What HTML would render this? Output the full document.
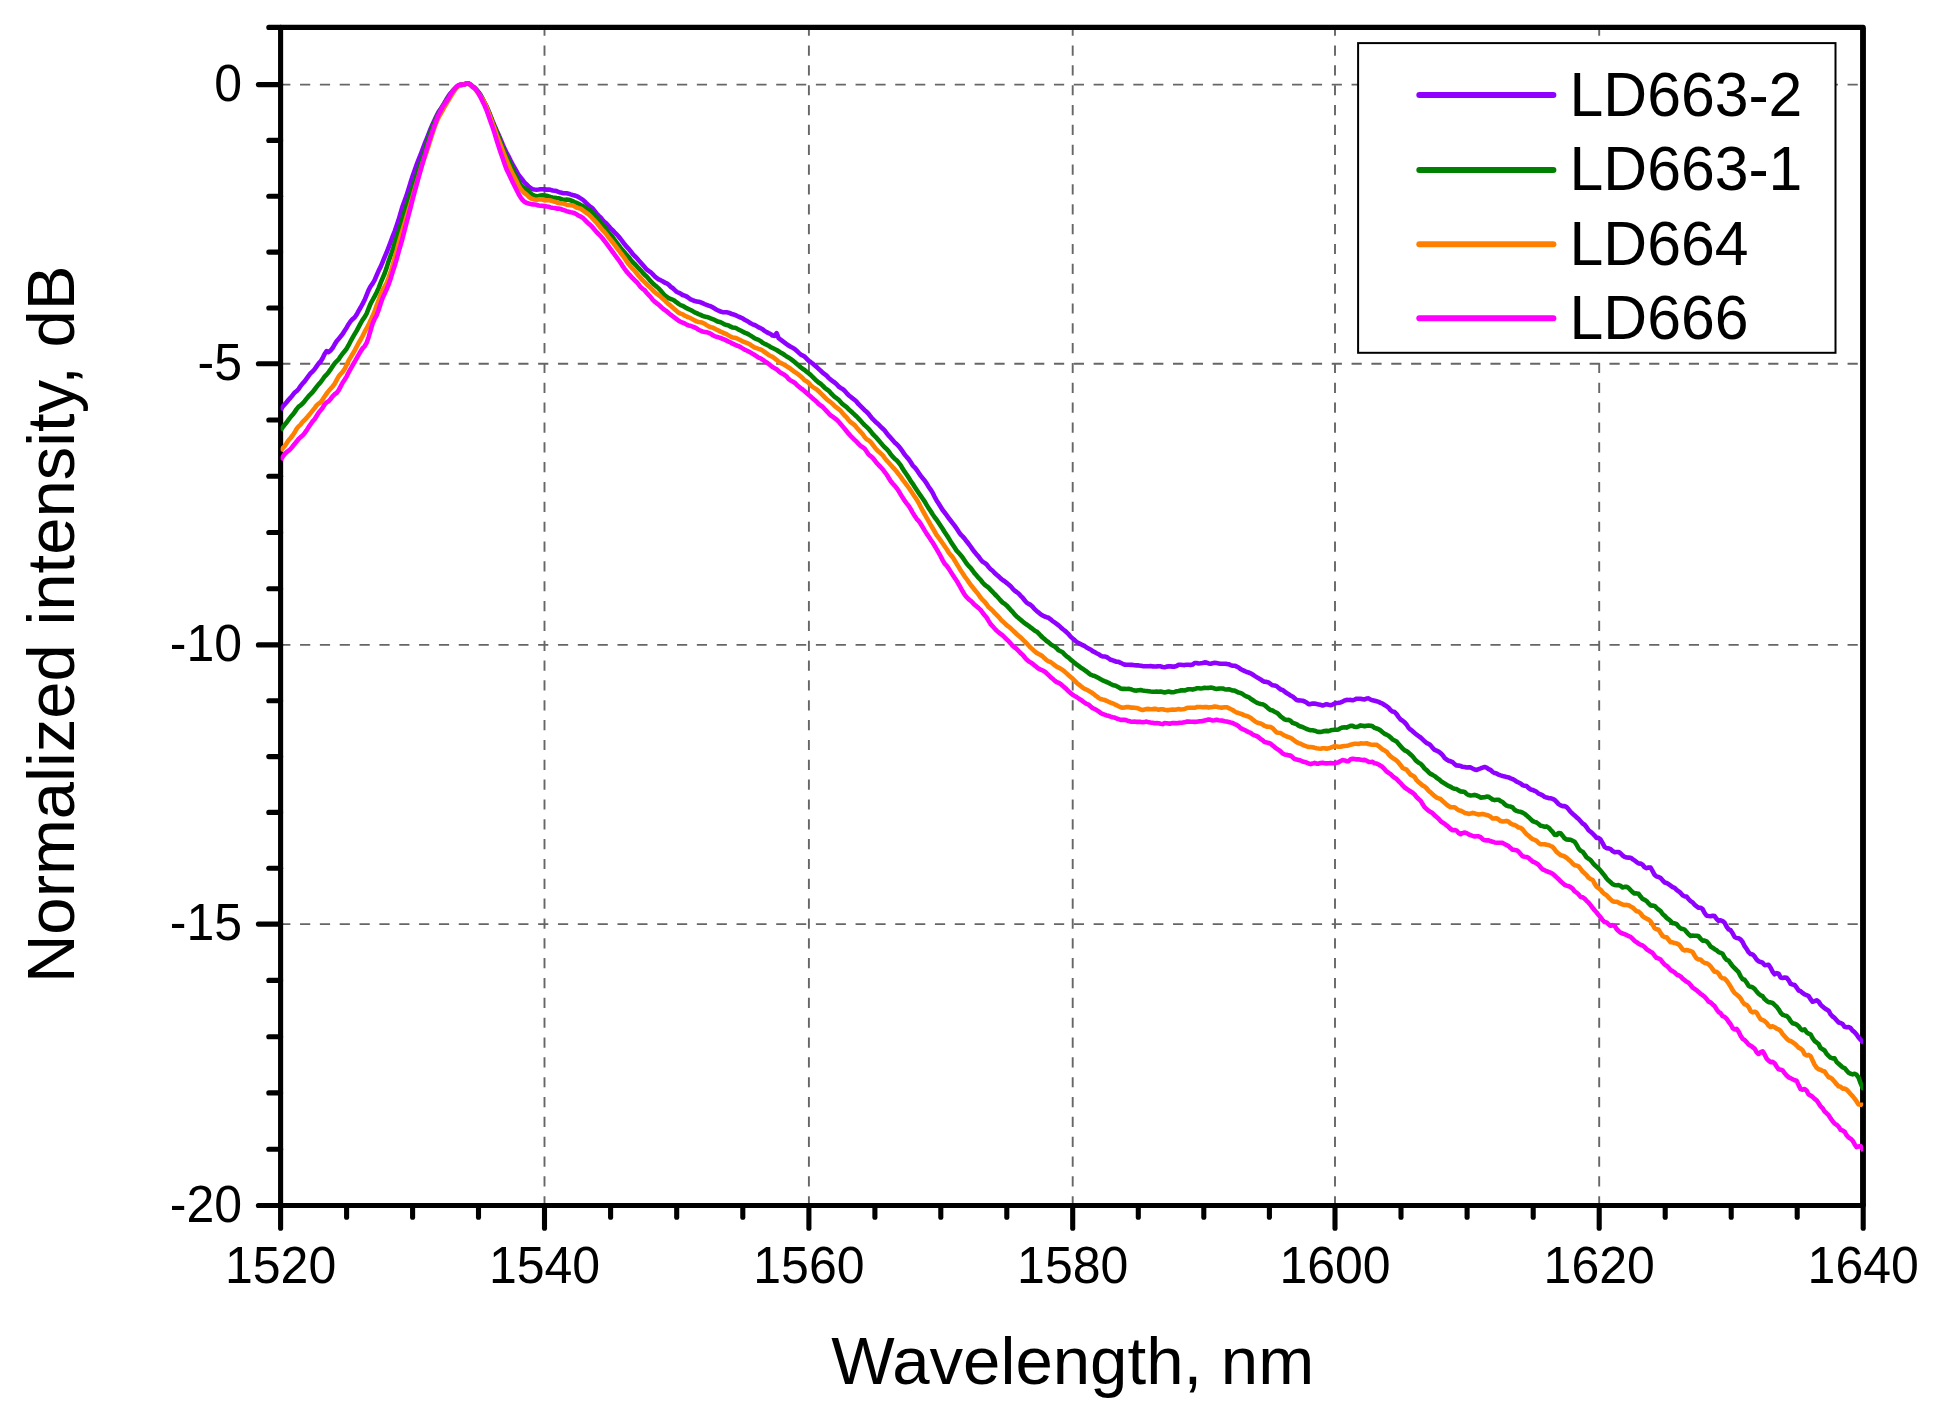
<!DOCTYPE html>
<html lang="en"><head><meta charset="utf-8"><title>Normalized intensity vs wavelength</title>
<style>html,body{margin:0;padding:0;background:#fff;}body{width:1939px;height:1415px;overflow:hidden;}svg{display:block;}text{font-family:'Liberation Sans', Arial, Helvetica, sans-serif;fill:#000;}</style></head><body>
<svg width="1939" height="1415" viewBox="0 0 1939 1415">
<rect x="0" y="0" width="1939" height="1415" fill="#fff"/>
<g stroke="#666666" stroke-width="1.9" fill="none" stroke-dasharray="10.2 9.64">
<line x1="280.2" y1="84.6" x2="1863.2" y2="84.6"/>
<line x1="280.2" y1="363.8" x2="1863.2" y2="363.8"/>
<line x1="280.2" y1="644.9" x2="1863.2" y2="644.9"/>
<line x1="280.2" y1="924.1" x2="1863.2" y2="924.1"/>
<line x1="544.5" y1="1206.4" x2="544.5" y2="27.4"/>
<line x1="808.9" y1="1206.4" x2="808.9" y2="27.4"/>
<line x1="1072.7" y1="1206.4" x2="1072.7" y2="27.4"/>
<line x1="1335" y1="1206.4" x2="1335" y2="27.4"/>
<line x1="1599.2" y1="1206.4" x2="1599.2" y2="27.4"/>
</g>
<g stroke="#000" stroke-width="5.1" fill="none" stroke-linecap="round">
<line x1="280.6" y1="27.4" x2="268.8" y2="27.4"/>
<line x1="280.6" y1="84.6" x2="258.4" y2="84.6"/>
<line x1="280.6" y1="140.4" x2="268.8" y2="140.4"/>
<line x1="280.6" y1="196.3" x2="268.8" y2="196.3"/>
<line x1="280.6" y1="252.1" x2="268.8" y2="252.1"/>
<line x1="280.6" y1="308" x2="268.8" y2="308"/>
<line x1="280.6" y1="363.8" x2="258.4" y2="363.8"/>
<line x1="280.6" y1="420" x2="268.8" y2="420"/>
<line x1="280.6" y1="476.2" x2="268.8" y2="476.2"/>
<line x1="280.6" y1="532.5" x2="268.8" y2="532.5"/>
<line x1="280.6" y1="588.7" x2="268.8" y2="588.7"/>
<line x1="280.6" y1="644.9" x2="258.4" y2="644.9"/>
<line x1="280.6" y1="700.7" x2="268.8" y2="700.7"/>
<line x1="280.6" y1="756.6" x2="268.8" y2="756.6"/>
<line x1="280.6" y1="812.4" x2="268.8" y2="812.4"/>
<line x1="280.6" y1="868.3" x2="268.8" y2="868.3"/>
<line x1="280.6" y1="924.1" x2="258.4" y2="924.1"/>
<line x1="280.6" y1="980.4" x2="268.8" y2="980.4"/>
<line x1="280.6" y1="1036.7" x2="268.8" y2="1036.7"/>
<line x1="280.6" y1="1092.9" x2="268.8" y2="1092.9"/>
<line x1="280.6" y1="1149.2" x2="268.8" y2="1149.2"/>
<line x1="280.6" y1="1205.5" x2="258.4" y2="1205.5"/>
<line x1="280.6" y1="1205.5" x2="280.6" y2="1228.3"/>
<line x1="346.6" y1="1205.5" x2="346.6" y2="1217.3"/>
<line x1="412.6" y1="1205.5" x2="412.6" y2="1217.3"/>
<line x1="478.5" y1="1205.5" x2="478.5" y2="1217.3"/>
<line x1="544.5" y1="1205.5" x2="544.5" y2="1228.3"/>
<line x1="610.6" y1="1205.5" x2="610.6" y2="1217.3"/>
<line x1="676.7" y1="1205.5" x2="676.7" y2="1217.3"/>
<line x1="742.8" y1="1205.5" x2="742.8" y2="1217.3"/>
<line x1="808.9" y1="1205.5" x2="808.9" y2="1228.3"/>
<line x1="874.9" y1="1205.5" x2="874.9" y2="1217.3"/>
<line x1="940.8" y1="1205.5" x2="940.8" y2="1217.3"/>
<line x1="1006.8" y1="1205.5" x2="1006.8" y2="1217.3"/>
<line x1="1072.7" y1="1205.5" x2="1072.7" y2="1228.3"/>
<line x1="1138.3" y1="1205.5" x2="1138.3" y2="1217.3"/>
<line x1="1203.8" y1="1205.5" x2="1203.8" y2="1217.3"/>
<line x1="1269.4" y1="1205.5" x2="1269.4" y2="1217.3"/>
<line x1="1335" y1="1205.5" x2="1335" y2="1228.3"/>
<line x1="1401" y1="1205.5" x2="1401" y2="1217.3"/>
<line x1="1467.1" y1="1205.5" x2="1467.1" y2="1217.3"/>
<line x1="1533.2" y1="1205.5" x2="1533.2" y2="1217.3"/>
<line x1="1599.2" y1="1205.5" x2="1599.2" y2="1228.3"/>
<line x1="1665.2" y1="1205.5" x2="1665.2" y2="1217.3"/>
<line x1="1731.2" y1="1205.5" x2="1731.2" y2="1217.3"/>
<line x1="1797.2" y1="1205.5" x2="1797.2" y2="1217.3"/>
<line x1="1863.2" y1="1205.5" x2="1863.2" y2="1228.3"/>
</g>
<path d="M280.6 27.4H1863.2V1205.5H280.6Z" fill="none" stroke="#000" stroke-width="5.1" stroke-linejoin="round"/>
<line x1="1862.9" y1="27.4" x2="1862.9" y2="1205.5" stroke="#000" stroke-width="5.6"/>
<defs><clipPath id="plotclip"><rect x="280.6" y="27.4" width="1582.6" height="1178.1"/></clipPath></defs>
<g fill="none" stroke-width="4.6" stroke-linejoin="round" stroke-linecap="butt" clip-path="url(#plotclip)">
<path stroke="#9000ff" d="M280.6 410 282.6 406.8 284.6 404.5 286.6 402.3 288.6 399.8 290.6 397.6 292.6 395.2 294.6 392.6 296.6 391.2 298.6 389 300.6 385.9 302.6 383.6 304.6 381.4 306.6 378.6 308.6 375.8 310.6 373.2 312.6 371.5 314.6 369.3 316.6 366.4 318.6 363.5 320.6 361.5 322.6 358.2 324.6 354 326.6 351.1 328.6 352.1 330.6 350.4 332.6 348.1 334.6 344.5 336.6 341.2 338.6 338.9 340.6 336.5 342.6 334 344.6 330.7 346.6 327.7 348.6 324.2 350.6 321.3 352.6 319.1 354.6 317.5 356.6 314.7 358.6 310.9 360.6 307.5 362.6 303.9 364.6 300 366.6 295.1 368.6 290.1 370.6 286.3 372.6 283.6 374.6 280.2 376.6 275.4 378.6 270.8 380.6 266.9 382.6 262.1 384.6 257.2 386.6 252.5 388.6 247.4 390.6 242.1 392.6 236.6 394.6 231.5 396.6 225.8 398.6 219.8 400.6 212.9 402.6 206.2 404.6 200.8 406.6 195.4 408.6 188.9 410.6 182.3 412.6 176.2 414.6 170.4 416.6 164.9 418.6 159.6 420.6 154.7 422.6 149.2 424.6 144 426.6 139.2 428.6 134.1 430.6 128.8 432.6 124.2 434.6 120 436.6 115.7 438.6 111.8 440.6 109 442.6 106.1 444.6 102.6 446.6 99 448.6 95.9 450.6 93.2 452.6 91 454.6 89.1 456.6 87.2 458.6 85.7 460.6 85 462.6 84.5 464.6 84 466.6 83.5 468.6 83.7 470.6 85.1 472.6 87.1 474.6 88.4 476.6 89.9 478.6 92.2 480.6 95.1 482.6 98.9 484.6 102.7 486.6 106.4 488.6 111.1 490.6 116 492.6 121.1 494.6 125.8 496.6 130.5 498.6 134.7 500.6 139.3 502.6 144.2 504.6 148.8 506.6 152.8 508.6 156.4 510.6 160.5 512.6 164.3 514.6 167.8 516.6 171.4 518.6 175 520.6 177.5 522.6 180 524.6 182.6 526.6 184.5 528.6 186.4 530.6 188.1 532.6 189.2 534.6 189.5 536.6 189.7 538.6 189.5 540.6 189.2 542.6 189.2 544.6 189.4 546.6 189.6 548.6 189.6 550.6 189.8 552.6 190.5 554.6 190.7 556.6 191.1 558.6 192 560.6 192.6 562.6 193.1 564.6 193.2 566.6 193.3 568.6 193.7 570.6 194.4 572.6 195 574.6 195.5 576.6 196.2 578.6 197.1 580.6 198.4 582.6 199.6 584.6 201.4 586.6 203.5 588.6 205.4 590.6 207 592.6 208.4 594.6 210.9 596.6 213.5 598.6 215.6 600.6 217.4 602.6 219.9 604.6 222.2 606.6 223.7 608.6 226 610.6 228.3 612.6 230.2 614.6 232.3 616.6 234.3 618.6 236.5 620.6 239 622.6 241.7 624.6 244.3 626.6 246.7 628.6 248.8 630.6 251.2 632.6 253.9 634.6 256 636.6 257.9 638.6 260.3 640.6 262.5 642.6 264.8 644.6 267.1 646.6 269.4 648.6 270.9 650.6 272.2 652.6 274.1 654.6 276.3 656.6 277.8 658.6 279.3 660.6 280.2 662.6 281.2 664.6 282.5 666.6 283.3 668.6 284.6 670.6 286.7 672.6 288 674.6 289.9 676.6 291.7 678.6 292.7 680.6 293.6 682.6 295 684.6 295.7 686.6 296.5 688.6 297.9 690.6 299.3 692.6 300.2 694.6 301 696.6 301.4 698.6 301.8 700.6 302.3 702.6 303.2 704.6 304.1 706.6 304.8 708.6 305.6 710.6 306.2 712.6 307.3 714.6 308.5 716.6 309.7 718.6 310.7 720.6 311.5 722.6 312.2 724.6 312.3 726.6 312.3 728.6 312.7 730.6 313.5 732.6 314.3 734.6 314.8 736.6 315.7 738.6 316.7 740.6 317.5 742.6 318.4 744.6 319.7 746.6 320.7 748.6 321.9 750.6 323.3 752.6 324.3 754.6 325 756.6 326.1 758.6 327.3 760.6 328.2 762.6 329.2 764.6 330.9 766.6 332.1 768.6 333.1 770.6 334 772.6 335.6 774.6 335.9 776.6 333.2 778.6 338.2 780.6 339.6 782.6 341.1 784.6 342.6 786.6 344.1 788.6 345.5 790.6 346.8 792.6 347.8 794.6 348.9 796.6 350.7 798.6 352.6 800.6 354.4 802.6 355.5 804.6 356.6 806.6 358.6 808.6 360.7 810.6 362 812.6 363.5 814.6 365.2 816.6 366.9 818.6 368.8 820.6 370.7 822.6 372.7 824.6 374.2 826.6 375.7 828.6 377.8 830.6 379.7 832.6 381.1 834.6 382.5 836.6 384.2 838.6 386.5 840.6 387.9 842.6 389 844.6 390.8 846.6 393.1 848.6 395.2 850.6 396.8 852.6 398.4 854.6 399.8 856.6 401.7 858.6 404.2 860.6 406.2 862.6 408.2 864.6 410.2 866.6 411.8 868.6 413.9 870.6 416.6 872.6 418.9 874.6 420.8 876.6 422.8 878.6 424.5 880.6 426.6 882.6 428.5 884.6 430.4 886.6 433.1 888.6 435.7 890.6 437.7 892.6 440 894.6 442.4 896.6 444.1 898.6 446.1 900.6 448.7 902.6 451.4 904.6 454.5 906.6 456.9 908.6 459.1 910.6 462 912.6 465.3 914.6 467.3 916.6 469.7 918.6 472.7 920.6 475.6 922.6 478.1 924.6 480.5 926.6 483.4 928.6 486.7 930.6 489.6 932.6 492.7 934.6 496.8 936.6 500.4 938.6 503.5 940.6 506.8 942.6 510 944.6 512.5 946.6 515.1 948.6 518 950.6 520.5 952.6 523.1 954.6 525.6 956.6 528.5 958.6 531.6 960.6 534.5 962.6 536.4 964.6 538.6 966.6 541.3 968.6 543.8 970.6 546.5 972.6 549.4 974.6 552.1 976.6 554.4 978.6 556.6 980.6 559.5 982.6 561.7 984.6 562.9 986.6 564.4 988.6 567 990.6 569.2 992.6 570.8 994.6 573 996.6 574.8 998.6 576.4 1000.6 578.4 1002.6 580 1004.6 581.3 1006.6 582.9 1008.6 584.5 1010.6 586.3 1012.6 588.6 1014.6 590.6 1016.6 592 1018.6 593.5 1020.6 595.8 1022.6 597.7 1024.6 600.2 1026.6 602.6 1028.6 603.9 1030.6 604.9 1032.6 606.7 1034.6 609.1 1036.6 610.9 1038.6 612.6 1040.6 614.3 1042.6 615.4 1044.6 616.5 1046.6 617.2 1048.6 617.8 1050.6 619.3 1052.6 621.1 1054.6 622.4 1056.6 623.8 1058.6 625.3 1060.6 627.2 1062.6 629 1064.6 630.5 1066.6 632.3 1068.6 634.2 1070.6 636.6 1072.6 638.4 1074.6 640.1 1076.6 641.9 1078.6 643.1 1080.6 644.1 1082.6 645.2 1084.6 646 1086.6 647.5 1088.6 648.6 1090.6 649.5 1092.6 651.1 1094.6 652.1 1096.6 653.2 1098.6 654.2 1100.6 655.6 1102.6 656.5 1104.6 656.5 1106.6 657 1108.6 658.4 1110.6 659.7 1112.6 660.3 1114.6 661 1116.6 661.8 1118.6 661.9 1120.6 662.8 1122.6 663.8 1124.6 664.6 1126.6 664.8 1128.6 664.7 1130.6 664.9 1132.6 664.9 1134.6 665.3 1136.6 665.4 1138.6 665.4 1140.6 665.7 1142.6 666.1 1144.6 666.2 1146.6 666.3 1148.6 666.2 1150.6 666 1152.6 666.4 1154.6 666.5 1156.6 666.4 1158.6 666.2 1160.6 666.3 1162.6 667 1164.6 667.3 1166.6 666.6 1168.6 666.4 1170.6 666.4 1172.6 666.6 1174.6 666.6 1176.6 666 1178.6 664.8 1180.6 664.8 1182.6 665 1184.6 665.1 1186.6 664.8 1188.6 664.7 1190.6 665.1 1192.6 664.6 1194.6 663 1196.6 663 1198.6 663.5 1200.6 663.3 1202.6 662.9 1204.6 662.4 1206.6 662.6 1208.6 663.4 1210.6 663.7 1212.6 663.2 1214.6 662.8 1216.6 663.1 1218.6 663.4 1220.6 663.7 1222.6 663.8 1224.6 663.7 1226.6 663.9 1228.6 664.2 1230.6 665.1 1232.6 665.7 1234.6 665.7 1236.6 666.5 1238.6 667.5 1240.6 669.1 1242.6 670.2 1244.6 671 1246.6 672 1248.6 672.5 1250.6 673.3 1252.6 674.5 1254.6 675.9 1256.6 677.1 1258.6 678.3 1260.6 679.4 1262.6 680.9 1264.6 681.8 1266.6 681.9 1268.6 682.4 1270.6 684.1 1272.6 685.3 1274.6 685.5 1276.6 686.1 1278.6 687.9 1280.6 689.4 1282.6 689.9 1284.6 691.6 1286.6 693 1288.6 694.2 1290.6 695.6 1292.6 696.5 1294.6 698.2 1296.6 699.9 1298.6 700.4 1300.6 700.5 1302.6 700.7 1304.6 701.5 1306.6 702.6 1308.6 704.1 1310.6 704.1 1312.6 703.6 1314.6 703.6 1316.6 704 1318.6 704.4 1320.6 704.8 1322.6 705.5 1324.6 704.8 1326.6 704.3 1328.6 704.8 1330.6 705.2 1332.6 704.6 1334.6 703.5 1336.6 703 1338.6 702.8 1340.6 702.4 1342.6 701.6 1344.6 700.4 1346.6 699.9 1348.6 700 1350.6 699.9 1352.6 700.3 1354.6 699.6 1356.6 698.7 1358.6 698.7 1360.6 698.8 1362.6 699.3 1364.6 699.4 1366.6 698.5 1368.6 698.4 1370.6 699.6 1372.6 700.3 1374.6 700.8 1376.6 701.3 1378.6 701.9 1380.6 702.9 1382.6 703.7 1384.6 705 1386.6 706.2 1388.6 707.8 1390.6 710.2 1392.6 711.6 1394.6 712.1 1396.6 714.1 1398.6 717.1 1400.6 719.5 1402.6 720.8 1404.6 722.4 1406.6 724.6 1408.6 727.9 1410.6 729.7 1412.6 731.2 1414.6 733 1416.6 734.7 1418.6 736.1 1420.6 737.5 1422.6 739.4 1424.6 741.3 1426.6 743 1428.6 743.8 1430.6 745.4 1432.6 747.9 1434.6 749.9 1436.6 750.7 1438.6 751.6 1440.6 753.1 1442.6 755.2 1444.6 757.9 1446.6 759.6 1448.6 760.7 1450.6 761.3 1452.6 762.2 1454.6 764.1 1456.6 765.5 1458.6 765.6 1460.6 766 1462.6 766.8 1464.6 767.1 1466.6 767.5 1468.6 767.2 1470.6 767.4 1472.6 768.5 1474.6 769.5 1476.6 770 1478.6 769.1 1480.6 768.4 1482.6 767.6 1484.6 767 1486.6 767.7 1488.6 769.2 1490.6 770 1492.6 771.9 1494.6 773.1 1496.6 773.5 1498.6 774.7 1500.6 775.4 1502.6 776 1504.6 776.4 1506.6 777.1 1508.6 777.4 1510.6 778.4 1512.6 779.1 1514.6 780.2 1516.6 781.6 1518.6 782.5 1520.6 783.5 1522.6 785.1 1524.6 785.8 1526.6 786.1 1528.6 788 1530.6 789.4 1532.6 789.9 1534.6 790.8 1536.6 791.8 1538.6 793.7 1540.6 794.4 1542.6 795.4 1544.6 796.9 1546.6 797.6 1548.6 798.1 1550.6 798.3 1552.6 798.9 1554.6 799.8 1556.6 801.9 1558.6 804.1 1560.6 805.3 1562.6 806.1 1564.6 806.1 1566.6 807.1 1568.6 809.3 1570.6 811.9 1572.6 813.7 1574.6 815.4 1576.6 817.4 1578.6 819 1580.6 821.2 1582.6 823.5 1584.6 824.8 1586.6 827.3 1588.6 830.2 1590.6 831.8 1592.6 833.5 1594.6 835.6 1596.6 837.9 1598.6 837.9 1600.6 839.6 1602.6 843.1 1604.6 846.8 1606.6 848.2 1608.6 848.4 1610.6 849.1 1612.6 851.1 1614.6 852.2 1616.6 852 1618.6 852 1620.6 853.4 1622.6 855.5 1624.6 856.9 1626.6 857.5 1628.6 857.6 1630.6 857.7 1632.6 859.2 1634.6 860.4 1636.6 862.1 1638.6 863.4 1640.6 863.6 1642.6 864.7 1644.6 867.2 1646.6 868.2 1648.6 867.5 1650.6 867.5 1652.6 871.1 1654.6 874.8 1656.6 876.6 1658.6 876.9 1660.6 878 1662.6 880.3 1664.6 882.4 1666.6 882.9 1668.6 884.2 1670.6 885.6 1672.6 887.1 1674.6 887.9 1676.6 889.9 1678.6 891.3 1680.6 892.9 1682.6 895.2 1684.6 896.4 1686.6 896.5 1688.6 899.2 1690.6 901.1 1692.6 902.4 1694.6 904.8 1696.6 906.4 1698.6 907.7 1700.6 907.7 1702.6 909.1 1704.6 913 1706.6 915.7 1708.6 916 1710.6 916.2 1712.6 915.7 1714.6 916.1 1716.6 918.8 1718.6 920.9 1720.6 920.3 1722.6 921.1 1724.6 922.8 1726.6 926.6 1728.6 929.4 1730.6 930.2 1732.6 933.2 1734.6 937 1736.6 938 1738.6 938.3 1740.6 939.5 1742.6 942 1744.6 946.2 1746.6 948.9 1748.6 952.2 1750.6 954.1 1752.6 954.5 1754.6 956.4 1756.6 959.5 1758.6 961.3 1760.6 962 1762.6 962.7 1764.6 965.1 1766.6 965 1768.6 964.7 1770.6 967.7 1772.6 971.8 1774.6 974.3 1776.6 973.1 1778.6 973.7 1780.6 977.4 1782.6 977.9 1784.6 977.5 1786.6 977.8 1788.6 980.2 1790.6 983.9 1792.6 984.5 1794.6 985 1796.6 987.5 1798.6 990.5 1800.6 991.2 1802.6 992.9 1804.6 994.4 1806.6 995.1 1808.6 996 1810.6 999.2 1812.6 1001.7 1814.6 1001.1 1816.6 1000.3 1818.6 1001.6 1820.6 1004.6 1822.6 1006.6 1824.6 1008.3 1826.6 1009.5 1828.6 1010.7 1830.6 1014.3 1832.6 1016.5 1834.6 1017.9 1836.6 1020.2 1838.6 1022.4 1840.6 1022.9 1842.6 1024 1844.6 1026.8 1846.6 1027.2 1848.6 1027 1850.6 1028.1 1852.6 1030.7 1854.6 1032.2 1856.6 1034.5 1858.6 1037.5 1860.6 1039.8 1862.6 1042 1863.2 1042.1"/>
<path stroke="#008000" d="M280.6 430.3 282.6 427.5 284.6 424.8 286.6 422.5 288.6 419.7 290.6 417 292.6 414.8 294.6 412.1 296.6 409.1 298.6 406.7 300.6 405.3 302.6 403.5 304.6 401.2 306.6 398.6 308.6 396.2 310.6 394.2 312.6 392.1 314.6 389.5 316.6 386.9 318.6 384.4 320.6 382.2 322.6 379.5 324.6 376.7 326.6 374.6 328.6 372.2 330.6 369.4 332.6 366.3 334.6 363.5 336.6 361.3 338.6 359.4 340.6 356.3 342.6 353.7 344.6 351.2 346.6 348.7 348.6 345.2 350.6 341.3 352.6 337.6 354.6 334.2 356.6 330.9 358.6 327.2 360.6 323.4 362.6 319.9 364.6 317.2 366.6 313.7 368.6 308.5 370.6 303.7 372.6 300 374.6 296.4 376.6 292.5 378.6 288.1 380.6 282.9 382.6 278.1 384.6 273.5 386.6 267.8 388.6 261.2 390.6 255.8 392.6 250.3 394.6 243.7 396.6 237.8 398.6 231.8 400.6 225.1 402.6 218.6 404.6 211.8 406.6 205 408.6 199.2 410.6 193.3 412.6 187.6 414.6 181.7 416.6 175.2 418.6 168.6 420.6 162.7 422.6 156.9 424.6 150.7 426.6 143.9 428.6 137.4 430.6 131.7 432.6 126.9 434.6 122 436.6 117.3 438.6 113.3 440.6 109.7 442.6 106.3 444.6 103.1 446.6 100.1 448.6 97.3 450.6 94.2 452.6 91.2 454.6 88.7 456.6 86.9 458.6 85.5 460.6 84.9 462.6 84.7 464.6 84.3 466.6 83.4 468.6 83.3 470.6 84.4 472.6 86.2 474.6 87.8 476.6 89.8 478.6 92.5 480.6 95.8 482.6 99.2 484.6 103.1 486.6 107.4 488.6 111.7 490.6 116.8 492.6 122.5 494.6 127.1 496.6 131.7 498.6 136.8 500.6 142.2 502.6 147.5 504.6 152.3 506.6 156.6 508.6 160.4 510.6 164.3 512.6 168.8 514.6 173.2 516.6 177.1 518.6 181.3 520.6 185.1 522.6 187.1 524.6 188.2 526.6 189.5 528.6 191.5 530.6 193.4 532.6 194.8 534.6 195.6 536.6 196.2 538.6 196.1 540.6 195.6 542.6 195.4 544.6 195.5 546.6 195.8 548.6 196.4 550.6 197 552.6 197.4 554.6 197.7 556.6 198.1 558.6 198.3 560.6 198.8 562.6 199.7 564.6 199.9 566.6 199.6 568.6 199.8 570.6 200.3 572.6 201.2 574.6 202.1 576.6 202.9 578.6 203.8 580.6 204.9 582.6 206 584.6 207.2 586.6 208.4 588.6 209.5 590.6 210.8 592.6 213.1 594.6 215.7 596.6 217.5 598.6 219.8 600.6 222.4 602.6 224.6 604.6 227 606.6 229.9 608.6 232.4 610.6 234.8 612.6 237.1 614.6 239.8 616.6 242.5 618.6 245.2 620.6 247.9 622.6 250.3 624.6 252.6 626.6 254.9 628.6 257 630.6 259.6 632.6 262 634.6 263.9 636.6 266 638.6 268.2 640.6 270.3 642.6 272.6 644.6 274.7 646.6 276.5 648.6 278.8 650.6 281.2 652.6 283.2 654.6 285 656.6 286.6 658.6 288.4 660.6 290.5 662.6 292.9 664.6 295.2 666.6 296.8 668.6 298.1 670.6 299 672.6 299.6 674.6 300.8 676.6 302.3 678.6 303.9 680.6 305.1 682.6 305.8 684.6 307 686.6 308.2 688.6 309.1 690.6 310 692.6 311.1 694.6 312.3 696.6 313.1 698.6 314.1 700.6 314.9 702.6 315.9 704.6 316.6 706.6 316.9 708.6 317.5 710.6 318.4 712.6 319.1 714.6 319.9 716.6 321 718.6 321.8 720.6 322.3 722.6 323.3 724.6 324.4 726.6 325.1 728.6 325.5 730.6 326.7 732.6 327.5 734.6 327.7 736.6 328.4 738.6 329.6 740.6 330.5 742.6 331.6 744.6 332.6 746.6 333.4 748.6 334.4 750.6 335.6 752.6 336.9 754.6 338.2 756.6 339.2 758.6 339.9 760.6 341.1 762.6 342.8 764.6 343.8 766.6 344.7 768.6 345.7 770.6 347.1 772.6 348 774.6 349 776.6 350 778.6 351.3 780.6 352.6 782.6 353.6 784.6 355 786.6 356.5 788.6 357.6 790.6 358.9 792.6 360.4 794.6 362 796.6 363.8 798.6 365.4 800.6 367.2 802.6 368.8 804.6 370 806.6 371.7 808.6 373.3 810.6 374.9 812.6 376.8 814.6 378.8 816.6 380.8 818.6 382.5 820.6 383.8 822.6 385.6 824.6 387.7 826.6 389.3 828.6 390.6 830.6 392.8 832.6 394.9 834.6 396.8 836.6 398.2 838.6 399.8 840.6 402 842.6 404.2 844.6 405.6 846.6 407.1 848.6 409.3 850.6 411 852.6 412.8 854.6 414.7 856.6 416.5 858.6 418.6 860.6 420.8 862.6 423 864.6 425.1 866.6 426.9 868.6 428.8 870.6 431.2 872.6 433.8 874.6 435.9 876.6 437.9 878.6 440.2 880.6 442.6 882.6 445 884.6 447.2 886.6 448.9 888.6 451.2 890.6 454.1 892.6 456.7 894.6 458.7 896.6 460.3 898.6 462.6 900.6 465.1 902.6 468.6 904.6 471.7 906.6 474.5 908.6 477.6 910.6 480.8 912.6 483.6 914.6 486.7 916.6 489.7 918.6 492.7 920.6 495.7 922.6 498.5 924.6 501.4 926.6 504.9 928.6 508.1 930.6 511 932.6 514.3 934.6 517.2 936.6 519.7 938.6 522.8 940.6 525.8 942.6 528.8 944.6 532 946.6 535 948.6 538.1 950.6 541.4 952.6 544.5 954.6 547.6 956.6 550.6 958.6 552.8 960.6 555.1 962.6 557.5 964.6 560.5 966.6 563.5 968.6 565.9 970.6 567.9 972.6 570.5 974.6 573.3 976.6 575.6 978.6 577.9 980.6 579.9 982.6 582.5 984.6 584.6 986.6 586.2 988.6 587.7 990.6 589.8 992.6 591.9 994.6 594 996.6 596 998.6 598.1 1000.6 600.5 1002.6 602.5 1004.6 603.7 1006.6 605.4 1008.6 607.6 1010.6 609.8 1012.6 611.9 1014.6 614.4 1016.6 616.4 1018.6 618.1 1020.6 619.7 1022.6 621.5 1024.6 623.1 1026.6 624.5 1028.6 625.9 1030.6 627.5 1032.6 628.9 1034.6 630.6 1036.6 631.5 1038.6 633.4 1040.6 635.5 1042.6 637.5 1044.6 639.1 1046.6 641 1048.6 642.3 1050.6 644.2 1052.6 645.4 1054.6 646.5 1056.6 648.2 1058.6 650.3 1060.6 651.3 1062.6 652.3 1064.6 654.6 1066.6 656.3 1068.6 657.7 1070.6 659.6 1072.6 661.1 1074.6 662.9 1076.6 664.5 1078.6 665.9 1080.6 667.5 1082.6 668.7 1084.6 670.1 1086.6 671.5 1088.6 673.1 1090.6 674.7 1092.6 675.4 1094.6 675.9 1096.6 677 1098.6 678.1 1100.6 679.2 1102.6 680.3 1104.6 681.2 1106.6 682 1108.6 682.8 1110.6 684 1112.6 684.9 1114.6 685.4 1116.6 686.2 1118.6 687.3 1120.6 688.5 1122.6 688.9 1124.6 688.9 1126.6 689 1128.6 688.8 1130.6 689.2 1132.6 689.9 1134.6 690.5 1136.6 690.6 1138.6 690.2 1140.6 690 1142.6 690.5 1144.6 690.8 1146.6 691 1148.6 691.2 1150.6 691.5 1152.6 691.7 1154.6 691.7 1156.6 691.6 1158.6 691.8 1160.6 691.6 1162.6 692 1164.6 692.5 1166.6 692 1168.6 691.5 1170.6 692.1 1172.6 692.2 1174.6 691.9 1176.6 691.3 1178.6 690.9 1180.6 690.4 1182.6 690.3 1184.6 690.5 1186.6 689.8 1188.6 689.2 1190.6 689.2 1192.6 689.6 1194.6 689.1 1196.6 688.3 1198.6 688.2 1200.6 688.5 1202.6 688.2 1204.6 687.7 1206.6 688 1208.6 687.9 1210.6 687.6 1212.6 687.8 1214.6 688.5 1216.6 688.9 1218.6 688.6 1220.6 688.5 1222.6 688.5 1224.6 689.2 1226.6 689.5 1228.6 689.2 1230.6 689.8 1232.6 690.5 1234.6 690.6 1236.6 691.6 1238.6 692.6 1240.6 692.9 1242.6 694 1244.6 695.5 1246.6 696.5 1248.6 697.1 1250.6 698.7 1252.6 700 1254.6 701.4 1256.6 702.6 1258.6 703.4 1260.6 704 1262.6 704.3 1264.6 705.3 1266.6 706.9 1268.6 708.7 1270.6 710.1 1272.6 710.6 1274.6 711.7 1276.6 712.7 1278.6 714.2 1280.6 716.4 1282.6 717.8 1284.6 719.3 1286.6 720 1288.6 719.9 1290.6 720.8 1292.6 722.9 1294.6 723.5 1296.6 724.1 1298.6 725.7 1300.6 726.6 1302.6 727.1 1304.6 728 1306.6 729 1308.6 729.7 1310.6 730.2 1312.6 730.3 1314.6 730.7 1316.6 731.4 1318.6 731.9 1320.6 732 1322.6 731.6 1324.6 731.1 1326.6 730.9 1328.6 731.1 1330.6 730.3 1332.6 730 1334.6 729.7 1336.6 729.8 1338.6 729.4 1340.6 728.1 1342.6 727.5 1344.6 727.2 1346.6 727.6 1348.6 726.7 1350.6 725.7 1352.6 725.9 1354.6 726.8 1356.6 727 1358.6 726.4 1360.6 725.4 1362.6 725.7 1364.6 726.3 1366.6 725.8 1368.6 725.6 1370.6 725.7 1372.6 726.3 1374.6 727.8 1376.6 728.5 1378.6 729.2 1380.6 730.5 1382.6 732.2 1384.6 733.8 1386.6 734.7 1388.6 735.7 1390.6 737.4 1392.6 739.5 1394.6 740.5 1396.6 741.6 1398.6 743.9 1400.6 746.3 1402.6 748.6 1404.6 750.3 1406.6 751.2 1408.6 752.7 1410.6 754.5 1412.6 756.4 1414.6 758.9 1416.6 761.2 1418.6 762.7 1420.6 763.7 1422.6 765.9 1424.6 768.5 1426.6 770.1 1428.6 772.2 1430.6 773.9 1432.6 774.9 1434.6 776.1 1436.6 777.8 1438.6 779.1 1440.6 780.8 1442.6 782.3 1444.6 783.4 1446.6 784.8 1448.6 785.9 1450.6 786.8 1452.6 788.1 1454.6 788.7 1456.6 789.1 1458.6 790.4 1460.6 791.4 1462.6 791.6 1464.6 792 1466.6 793.9 1468.6 795.1 1470.6 795.5 1472.6 795.3 1474.6 794.9 1476.6 795.5 1478.6 796.3 1480.6 797.6 1482.6 797.4 1484.6 797.2 1486.6 796.6 1488.6 796.8 1490.6 798.1 1492.6 799.5 1494.6 800.1 1496.6 799.8 1498.6 799.7 1500.6 801.1 1502.6 802 1504.6 804.1 1506.6 805.6 1508.6 806.2 1510.6 806.6 1512.6 807.4 1514.6 809.9 1516.6 810.9 1518.6 811.5 1520.6 811.8 1522.6 812.7 1524.6 813.7 1526.6 815.4 1528.6 817.2 1530.6 819.1 1532.6 821 1534.6 821.8 1536.6 822.5 1538.6 824 1540.6 825.7 1542.6 826.1 1544.6 826.7 1546.6 826.4 1548.6 827.6 1550.6 829.8 1552.6 831.9 1554.6 834.7 1556.6 835 1558.6 833 1560.6 833.3 1562.6 835.7 1564.6 838.3 1566.6 839.5 1568.6 839.6 1570.6 839.8 1572.6 840.8 1574.6 841.8 1576.6 844.7 1578.6 848.5 1580.6 850.7 1582.6 851.7 1584.6 854.4 1586.6 857.4 1588.6 858.7 1590.6 860.1 1592.6 862.7 1594.6 865 1596.6 866.7 1598.6 868.4 1600.6 870.7 1602.6 873.2 1604.6 875.6 1606.6 878.5 1608.6 880.6 1610.6 882.3 1612.6 884.1 1614.6 885 1616.6 885.3 1618.6 885.1 1620.6 885.9 1622.6 887.5 1624.6 886.9 1626.6 886.8 1628.6 888 1630.6 890.1 1632.6 892.1 1634.6 893.5 1636.6 893.4 1638.6 893.8 1640.6 896.6 1642.6 898.9 1644.6 899.8 1646.6 901.1 1648.6 903.4 1650.6 905.4 1652.6 905.6 1654.6 905.9 1656.6 907.9 1658.6 909.7 1660.6 911.2 1662.6 914 1664.6 915.7 1666.6 917.8 1668.6 919.3 1670.6 921 1672.6 923.1 1674.6 923.3 1676.6 924.2 1678.6 926.6 1680.6 928.4 1682.6 928.9 1684.6 929.6 1686.6 932 1688.6 934.3 1690.6 935.9 1692.6 935.6 1694.6 935.7 1696.6 935.7 1698.6 936.3 1700.6 938.8 1702.6 940.6 1704.6 940.6 1706.6 941.4 1708.6 943.5 1710.6 946.5 1712.6 947.7 1714.6 949.2 1716.6 950.3 1718.6 952.1 1720.6 952.8 1722.6 953.8 1724.6 957.5 1726.6 959.9 1728.6 960.6 1730.6 963.5 1732.6 966.1 1734.6 968.1 1736.6 970.2 1738.6 972.2 1740.6 976.3 1742.6 979.2 1744.6 979.8 1746.6 982.5 1748.6 985.9 1750.6 986.8 1752.6 987.3 1754.6 988.8 1756.6 991.5 1758.6 993.7 1760.6 995.3 1762.6 996.2 1764.6 999.1 1766.6 1000.8 1768.6 1002.2 1770.6 1002.4 1772.6 1003 1774.6 1004.9 1776.6 1006.7 1778.6 1009.3 1780.6 1012.6 1782.6 1014.8 1784.6 1015.4 1786.6 1015.9 1788.6 1017.8 1790.6 1021 1792.6 1023.2 1794.6 1023.7 1796.6 1024.6 1798.6 1026.2 1800.6 1029 1802.6 1030.2 1804.6 1029.4 1806.6 1032.3 1808.6 1033.7 1810.6 1034.4 1812.6 1038.2 1814.6 1041 1816.6 1042.4 1818.6 1044.1 1820.6 1048.1 1822.6 1049.2 1824.6 1050.5 1826.6 1053.9 1828.6 1055.9 1830.6 1057.7 1832.6 1058.4 1834.6 1058.4 1836.6 1062 1838.6 1063.7 1840.6 1065.5 1842.6 1067.4 1844.6 1068.1 1846.6 1070.4 1848.6 1072.7 1850.6 1073.8 1852.6 1074.4 1854.6 1073.8 1856.6 1074.8 1858.6 1077.6 1860.6 1083.1 1862.6 1088 1863.2 1086.1"/>
<path stroke="#ff8000" d="M280.6 450.8 282.6 448.4 284.6 446.2 286.6 443.3 288.6 440.2 290.6 438 292.6 435.5 294.6 432.5 296.6 428.9 298.6 426.4 300.6 424.6 302.6 421.9 304.6 420 306.6 417.9 308.6 415.5 310.6 413.1 312.6 410.6 314.6 408.1 316.6 405.4 318.6 403.6 320.6 402.3 322.6 399.5 324.6 396.5 326.6 393.7 328.6 391 330.6 388.8 332.6 386.5 334.6 383.9 336.6 380.2 338.6 376.5 340.6 374 342.6 371.9 344.6 369.2 346.6 365.1 348.6 360.7 350.6 357.3 352.6 354 354.6 350.7 356.6 346.9 358.6 343 360.6 339.7 362.6 336 364.6 331.9 366.6 328.3 368.6 324.7 370.6 320.2 372.6 316.1 374.6 311.4 376.6 305.6 378.6 300.4 380.6 294.8 382.6 290 384.6 286.7 386.6 283.1 388.6 277.8 390.6 272.1 392.6 265.3 394.6 258 396.6 251.1 398.6 243.6 400.6 236.5 402.6 229.9 404.6 223.3 406.6 216.8 408.6 210.1 410.6 203.7 412.6 196.9 414.6 189.8 416.6 183.1 418.6 176.6 420.6 169.6 422.6 163.1 424.6 157.5 426.6 151.9 428.6 145.7 430.6 139.3 432.6 133 434.6 127 436.6 121.9 438.6 117.5 440.6 113.9 442.6 110.3 444.6 106.7 446.6 103.4 448.6 100 450.6 96.7 452.6 93.6 454.6 90.5 456.6 87.7 458.6 86.1 460.6 85.6 462.6 84.9 464.6 84.2 466.6 83.8 468.6 84 470.6 85 472.6 86.3 474.6 88.2 476.6 91.1 478.6 93.7 480.6 96.5 482.6 99.4 484.6 103 486.6 107.6 488.6 112.8 490.6 118.2 492.6 123.8 494.6 129 496.6 134.7 498.6 140 500.6 145 502.6 150.3 504.6 155.5 506.6 160.5 508.6 165.1 510.6 169.8 512.6 174 514.6 177.4 516.6 181.5 518.6 185.7 520.6 188.8 522.6 191.4 524.6 193.2 526.6 194.7 528.6 196.6 530.6 198.1 532.6 199.1 534.6 199.5 536.6 199.7 538.6 199.4 540.6 199.2 542.6 199.6 544.6 200.4 546.6 200.3 548.6 200.2 550.6 200.5 552.6 201.1 554.6 201.7 556.6 202.4 558.6 202.9 560.6 203.2 562.6 203.4 564.6 204 566.6 204.7 568.6 205 570.6 205.2 572.6 205.4 574.6 206.4 576.6 207.5 578.6 208.2 580.6 208.6 582.6 210 584.6 211.6 586.6 213 588.6 214.4 590.6 216.3 592.6 218.5 594.6 220.6 596.6 222.8 598.6 225.2 600.6 227.7 602.6 230.1 604.6 232.2 606.6 234.6 608.6 237.5 610.6 239.8 612.6 242.3 614.6 244.9 616.6 247.6 618.6 250.2 620.6 253 622.6 255.5 624.6 258.2 626.6 261.3 628.6 264.1 630.6 266.4 632.6 268.6 634.6 270.7 636.6 273.2 638.6 275.7 640.6 277.9 642.6 280.2 644.6 282.2 646.6 284.2 648.6 286 650.6 287.9 652.6 290 654.6 292 656.6 293.7 658.6 295.1 660.6 296.8 662.6 298.6 664.6 300.2 666.6 302.4 668.6 304.2 670.6 305.7 672.6 307.4 674.6 309.3 676.6 311 678.6 312.7 680.6 313.6 682.6 314.3 684.6 315.6 686.6 316.5 688.6 317.3 690.6 318.3 692.6 319.3 694.6 320.4 696.6 321.4 698.6 322 700.6 322.3 702.6 322.8 704.6 323.8 706.6 325.1 708.6 326.3 710.6 327.2 712.6 327.6 714.6 328.6 716.6 329.7 718.6 330.6 720.6 331.6 722.6 332.5 724.6 333.3 726.6 334.2 728.6 335.4 730.6 336.6 732.6 337.4 734.6 337.7 736.6 338.2 738.6 339.2 740.6 340.2 742.6 341.3 744.6 342.1 746.6 342.9 748.6 343.7 750.6 344.8 752.6 346.3 754.6 347.5 756.6 348.2 758.6 348.9 760.6 349.5 762.6 350.6 764.6 352 766.6 353.4 768.6 354.9 770.6 356 772.6 356.9 774.6 358.3 776.6 359.8 778.6 361.7 780.6 362.9 782.6 363.9 784.6 365.1 786.6 366.3 788.6 367.5 790.6 368.8 792.6 370.3 794.6 371.8 796.6 373.2 798.6 374.6 800.6 376.2 802.6 378 804.6 380.2 806.6 381.3 808.6 382.9 810.6 385.1 812.6 386.9 814.6 388.1 816.6 389.4 818.6 391.2 820.6 393.2 822.6 395.1 824.6 397.2 826.6 399.2 828.6 400.8 830.6 402.1 832.6 403.9 834.6 405.9 836.6 407.6 838.6 409 840.6 410.8 842.6 413.2 844.6 415.5 846.6 417.4 848.6 420 850.6 422.1 852.6 423.5 854.6 425.1 856.6 427.4 858.6 429.7 860.6 431.9 862.6 434 864.6 437 866.6 439.2 868.6 440.3 870.6 441.9 872.6 444.5 874.6 447.2 876.6 449.6 878.6 451.6 880.6 453.3 882.6 455.2 884.6 457.9 886.6 460.4 888.6 462.5 890.6 464.8 892.6 467.1 894.6 469.2 896.6 471.5 898.6 474.1 900.6 476.7 902.6 479.6 904.6 482.1 906.6 484.8 908.6 487.5 910.6 490.5 912.6 493.5 914.6 496.5 916.6 499.4 918.6 502.7 920.6 506.7 922.6 510.5 924.6 514 926.6 517.7 928.6 521.1 930.6 524.7 932.6 528 934.6 531.5 936.6 535 938.6 537.6 940.6 540.4 942.6 543.3 944.6 546.1 946.6 549 948.6 552.3 950.6 554.9 952.6 557.1 954.6 560.3 956.6 563.7 958.6 566.9 960.6 570.3 962.6 573.2 964.6 576.3 966.6 579 968.6 581.8 970.6 584.7 972.6 587.2 974.6 589.7 976.6 592.1 978.6 594.7 980.6 597.6 982.6 599.9 984.6 601.7 986.6 604.2 988.6 607.1 990.6 608.8 992.6 610.6 994.6 612.9 996.6 614.8 998.6 616.9 1000.6 619.3 1002.6 621.3 1004.6 623.1 1006.6 625.1 1008.6 626.6 1010.6 628.3 1012.6 630.1 1014.6 632 1016.6 634 1018.6 635.8 1020.6 637.4 1022.6 639.4 1024.6 641.3 1026.6 643.3 1028.6 645.5 1030.6 647.6 1032.6 649.4 1034.6 651.3 1036.6 652.9 1038.6 653.9 1040.6 655 1042.6 656.4 1044.6 658.3 1046.6 660.1 1048.6 661.4 1050.6 662 1052.6 663.5 1054.6 665.2 1056.6 666.7 1058.6 667.6 1060.6 668.7 1062.6 669.9 1064.6 671.6 1066.6 673.4 1068.6 675.2 1070.6 676.9 1072.6 678.6 1074.6 680.6 1076.6 682.7 1078.6 684.4 1080.6 685.9 1082.6 687.6 1084.6 688.9 1086.6 689.6 1088.6 690.8 1090.6 691.9 1092.6 693.2 1094.6 694.8 1096.6 696.3 1098.6 697.9 1100.6 699.1 1102.6 699.6 1104.6 700 1106.6 700.8 1108.6 701.8 1110.6 702.6 1112.6 703.3 1114.6 704.3 1116.6 705.2 1118.6 706.3 1120.6 707.3 1122.6 707.8 1124.6 707.4 1126.6 707 1128.6 707.1 1130.6 707.6 1132.6 707.5 1134.6 707.7 1136.6 708.1 1138.6 708.6 1140.6 709.4 1142.6 709.9 1144.6 709.5 1146.6 709.1 1148.6 708.9 1150.6 709.2 1152.6 709.1 1154.6 708.9 1156.6 709.1 1158.6 709.8 1160.6 709.3 1162.6 709.2 1164.6 709.8 1166.6 710.1 1168.6 710.1 1170.6 709.8 1172.6 709.5 1174.6 709.8 1176.6 709.4 1178.6 709.1 1180.6 709.5 1182.6 709.3 1184.6 709 1186.6 708.1 1188.6 707.7 1190.6 707.7 1192.6 707.8 1194.6 707.8 1196.6 707.1 1198.6 707 1200.6 707 1202.6 707.2 1204.6 707.1 1206.6 707.1 1208.6 707.6 1210.6 707.3 1212.6 707 1214.6 706.5 1216.6 706.8 1218.6 707.3 1220.6 707.6 1222.6 707.6 1224.6 707.3 1226.6 707.2 1228.6 708.1 1230.6 709 1232.6 710 1234.6 711.4 1236.6 712.6 1238.6 713.1 1240.6 713.7 1242.6 714.5 1244.6 715.3 1246.6 716 1248.6 716.7 1250.6 717.7 1252.6 719.4 1254.6 721.1 1256.6 722.3 1258.6 723 1260.6 723.4 1262.6 724.5 1264.6 725.9 1266.6 726.6 1268.6 726.7 1270.6 727 1272.6 728.2 1274.6 730.3 1276.6 732.4 1278.6 732.8 1280.6 733.1 1282.6 734.4 1284.6 735.5 1286.6 736.5 1288.6 737.1 1290.6 737.8 1292.6 739.2 1294.6 740.8 1296.6 742.1 1298.6 743.1 1300.6 743.7 1302.6 744.9 1304.6 745.7 1306.6 746.4 1308.6 747 1310.6 747 1312.6 747.3 1314.6 747.8 1316.6 748.2 1318.6 748.5 1320.6 748.7 1322.6 748.3 1324.6 748.3 1326.6 748.8 1328.6 748.3 1330.6 747.6 1332.6 746.8 1334.6 746.1 1336.6 746.4 1338.6 746.8 1340.6 746.7 1342.6 746.2 1344.6 746 1346.6 745.8 1348.6 745.4 1350.6 744.7 1352.6 744.2 1354.6 743.7 1356.6 743.7 1358.6 744 1360.6 743.4 1362.6 743.5 1364.6 743.5 1366.6 743.2 1368.6 744.1 1370.6 744.5 1372.6 744.8 1374.6 744.7 1376.6 744.8 1378.6 746.1 1380.6 747.8 1382.6 749.5 1384.6 750.6 1386.6 751.7 1388.6 754.3 1390.6 756.4 1392.6 757.9 1394.6 759.2 1396.6 760.6 1398.6 762.7 1400.6 765.2 1402.6 767.9 1404.6 768.8 1406.6 769.7 1408.6 772.2 1410.6 774.7 1412.6 775.6 1414.6 777 1416.6 780.2 1418.6 782.2 1420.6 783.7 1422.6 785.5 1424.6 786.6 1426.6 788.3 1428.6 790.8 1430.6 792.4 1432.6 794.2 1434.6 795.9 1436.6 797.6 1438.6 798.3 1440.6 799 1442.6 801.1 1444.6 802.8 1446.6 804.6 1448.6 806 1450.6 807.3 1452.6 807.3 1454.6 807.2 1456.6 808.8 1458.6 810.2 1460.6 810.7 1462.6 811.6 1464.6 812.9 1466.6 813.3 1468.6 813.9 1470.6 813.6 1472.6 812.9 1474.6 813.3 1476.6 814.1 1478.6 814.6 1480.6 814.2 1482.6 813.9 1484.6 814.4 1486.6 815.1 1488.6 815.6 1490.6 816.8 1492.6 818.5 1494.6 818.4 1496.6 818.2 1498.6 819.5 1500.6 821.1 1502.6 821.5 1504.6 821.2 1506.6 820.9 1508.6 821.7 1510.6 823.5 1512.6 824.6 1514.6 825 1516.6 826.1 1518.6 827.5 1520.6 827.8 1522.6 829.3 1524.6 832 1526.6 834.2 1528.6 835.8 1530.6 837.6 1532.6 839.2 1534.6 839.9 1536.6 840.8 1538.6 843 1540.6 844.2 1542.6 844.2 1544.6 844.2 1546.6 844.8 1548.6 845 1550.6 846 1552.6 846.9 1554.6 849.3 1556.6 851.9 1558.6 853.5 1560.6 855.1 1562.6 855.7 1564.6 856.5 1566.6 857.8 1568.6 859.6 1570.6 861.2 1572.6 863.5 1574.6 865.2 1576.6 865.6 1578.6 866.3 1580.6 868.9 1582.6 871.6 1584.6 873.3 1586.6 875.2 1588.6 877.7 1590.6 879.1 1592.6 879.8 1594.6 883.6 1596.6 886.6 1598.6 888.2 1600.6 889.8 1602.6 892.3 1604.6 894.1 1606.6 895.2 1608.6 897.5 1610.6 899.4 1612.6 901.2 1614.6 901.7 1616.6 901.7 1618.6 902.6 1620.6 903.7 1622.6 904.5 1624.6 905 1626.6 904.9 1628.6 905.3 1630.6 906.5 1632.6 907.5 1634.6 909.4 1636.6 911.2 1638.6 911.6 1640.6 913.4 1642.6 916.2 1644.6 917.6 1646.6 918.7 1648.6 919.6 1650.6 921.4 1652.6 924.7 1654.6 928.2 1656.6 929.2 1658.6 929.8 1660.6 932.9 1662.6 935.9 1664.6 937 1666.6 937.3 1668.6 939.8 1670.6 942.3 1672.6 942.3 1674.6 943.1 1676.6 943.5 1678.6 944.3 1680.6 946.6 1682.6 949.4 1684.6 950.5 1686.6 950.1 1688.6 950.6 1690.6 951 1692.6 952 1694.6 955.5 1696.6 958.5 1698.6 959.4 1700.6 959.5 1702.6 961.6 1704.6 962.9 1706.6 963.2 1708.6 964.4 1710.6 966.3 1712.6 969.3 1714.6 971.8 1716.6 971.9 1718.6 973.5 1720.6 976.9 1722.6 978.3 1724.6 978.6 1726.6 980.7 1728.6 983.5 1730.6 986.6 1732.6 990.1 1734.6 993 1736.6 994.5 1738.6 996.2 1740.6 998.3 1742.6 1001.9 1744.6 1004.3 1746.6 1004.9 1748.6 1007 1750.6 1011.1 1752.6 1012.4 1754.6 1011.7 1756.6 1012.6 1758.6 1016.1 1760.6 1019.3 1762.6 1020 1764.6 1021.1 1766.6 1022.9 1768.6 1025.6 1770.6 1027 1772.6 1026.2 1774.6 1027.2 1776.6 1028.7 1778.6 1029.4 1780.6 1030.9 1782.6 1034 1784.6 1036.2 1786.6 1038.5 1788.6 1040.4 1790.6 1040.9 1792.6 1042.3 1794.6 1043.6 1796.6 1045.5 1798.6 1047.6 1800.6 1048.6 1802.6 1050.2 1804.6 1054.2 1806.6 1055.4 1808.6 1054.9 1810.6 1056.1 1812.6 1060.5 1814.6 1064.7 1816.6 1067.6 1818.6 1069.2 1820.6 1069.8 1822.6 1070.9 1824.6 1071.5 1826.6 1074.5 1828.6 1077.2 1830.6 1077.8 1832.6 1079.4 1834.6 1081.7 1836.6 1084.2 1838.6 1086.3 1840.6 1086.8 1842.6 1088.6 1844.6 1088.6 1846.6 1089.6 1848.6 1091.7 1850.6 1094 1852.6 1096.1 1854.6 1098.6 1856.6 1101.4 1858.6 1104.5 1860.6 1104.7 1862.6 1104.9 1863.2 1105.6"/>
<path stroke="#ff00ff" d="M280.6 459.8 282.6 457 284.6 454.1 286.6 452.1 288.6 450.7 290.6 448.9 292.6 446.5 294.6 443.9 296.6 441.6 298.6 439 300.6 437.1 302.6 435.5 304.6 433.2 306.6 430.4 308.6 427.1 310.6 424.2 312.6 421.4 314.6 419.2 316.6 416 318.6 412.8 320.6 410.4 322.6 407.9 324.6 404.5 326.6 402.4 328.6 401.2 330.6 399 332.6 396.4 334.6 394.3 336.6 393 338.6 390.4 340.6 386.7 342.6 382.8 344.6 379.8 346.6 376.6 348.6 372.5 350.6 368.8 352.6 365.3 354.6 362 356.6 358.4 358.6 354.9 360.6 351.4 362.6 348.4 364.6 346.2 366.6 342.9 368.6 337.2 370.6 330.4 372.6 323.6 374.6 319 376.6 315.4 378.6 310 380.6 303.7 382.6 297.9 384.6 293.8 386.6 289.4 388.6 284.4 390.6 278.7 392.6 272.1 394.6 266.1 396.6 259.3 398.6 251.9 400.6 245 402.6 238 404.6 230.1 406.6 222.5 408.6 214.9 410.6 207.3 412.6 199.5 414.6 192 416.6 184.7 418.6 177.2 420.6 170.2 422.6 163.1 424.6 156 426.6 149.4 428.6 142.9 430.6 136.6 432.6 130.8 434.6 125.1 436.6 119.6 438.6 114.7 440.6 110.8 442.6 106.9 444.6 103.7 446.6 101.2 448.6 98.1 450.6 94.5 452.6 91.5 454.6 89.1 456.6 86.7 458.6 85.2 460.6 84.5 462.6 84.7 464.6 84.5 466.6 83.5 468.6 83.6 470.6 84.8 472.6 86.3 474.6 87.7 476.6 90.5 478.6 93.6 480.6 97.3 482.6 101.5 484.6 105.5 486.6 110.3 488.6 115.9 490.6 121.8 492.6 127.3 494.6 133.3 496.6 140.1 498.6 146.4 500.6 152.4 502.6 158.1 504.6 164 506.6 169.4 508.6 173.5 510.6 177.8 512.6 182 514.6 186 516.6 190.1 518.6 194 520.6 197.4 522.6 200 524.6 201.9 526.6 202.9 528.6 203.5 530.6 204 532.6 204.4 534.6 204.5 536.6 204.8 538.6 205.5 540.6 205.8 542.6 205.9 544.6 206 546.6 206.4 548.6 206.8 550.6 207.4 552.6 207.8 554.6 208.1 556.6 208.6 558.6 208.6 560.6 208.9 562.6 209.8 564.6 210.4 566.6 211.1 568.6 211.7 570.6 212.3 572.6 212.6 574.6 213.2 576.6 214.3 578.6 215.7 580.6 216.5 582.6 217.7 584.6 219.6 586.6 221.8 588.6 223.6 590.6 225.2 592.6 227.4 594.6 229.7 596.6 232.1 598.6 234.2 600.6 236.1 602.6 238.5 604.6 241.1 606.6 243.7 608.6 246.4 610.6 249.1 612.6 251.9 614.6 254.6 616.6 257.3 618.6 260 620.6 262.8 622.6 266 624.6 268.9 626.6 271.6 628.6 273.8 630.6 275.9 632.6 278.2 634.6 280.2 636.6 282 638.6 284.4 640.6 287.1 642.6 288.8 644.6 290.2 646.6 292.7 648.6 294.9 650.6 297 652.6 299.7 654.6 301.6 656.6 303.1 658.6 304.6 660.6 306.5 662.6 308.4 664.6 309.9 666.6 311.2 668.6 313 670.6 314.7 672.6 316.2 674.6 317.6 676.6 319.2 678.6 320.7 680.6 321.8 682.6 322.6 684.6 323.4 686.6 324.6 688.6 325.4 690.6 325.8 692.6 326.6 694.6 327.4 696.6 328.4 698.6 329.7 700.6 330.7 702.6 331.6 704.6 331.9 706.6 332.2 708.6 332.9 710.6 333.6 712.6 335.2 714.6 336.1 716.6 336.8 718.6 337.4 720.6 338 722.6 338.8 724.6 339.6 726.6 340.6 728.6 341.6 730.6 342.5 732.6 343.7 734.6 344.5 736.6 345.5 738.6 346.2 740.6 347.1 742.6 348.4 744.6 349.6 746.6 350.5 748.6 351.5 750.6 352.6 752.6 353.8 754.6 354.9 756.6 356.3 758.6 357.6 760.6 358.4 762.6 359.7 764.6 361.1 766.6 362.4 768.6 363.8 770.6 365.5 772.6 367.1 774.6 368.2 776.6 369.3 778.6 371.1 780.6 372.7 782.6 373.8 784.6 374.9 786.6 376.6 788.6 378.9 790.6 380.5 792.6 381.5 794.6 382.7 796.6 384.7 798.6 386.4 800.6 388.1 802.6 389.5 804.6 391.2 806.6 393 808.6 394.8 810.6 396.5 812.6 398.4 814.6 400 816.6 401.7 818.6 403.9 820.6 405.5 822.6 406.8 824.6 409 826.6 411.1 828.6 413.3 830.6 415.3 832.6 416.7 834.6 418.1 836.6 419.6 838.6 421.6 840.6 424 842.6 426.4 844.6 428.8 846.6 431.3 848.6 433.7 850.6 435.8 852.6 437.8 854.6 439.8 856.6 441.7 858.6 443.9 860.6 445.9 862.6 447.2 864.6 448.6 866.6 451.5 868.6 454.5 870.6 456.1 872.6 457.8 874.6 460.3 876.6 462.9 878.6 465 880.6 467 882.6 469.2 884.6 471.8 886.6 474.5 888.6 477.7 890.6 481 892.6 483.5 894.6 485.6 896.6 488 898.6 490.9 900.6 494.3 902.6 497.6 904.6 500.7 906.6 503.4 908.6 505.8 910.6 508.9 912.6 512.6 914.6 515.8 916.6 518.8 918.6 520.9 920.6 523.7 922.6 527 924.6 530.4 926.6 533.6 928.6 536.5 930.6 539.6 932.6 542.5 934.6 545.8 936.6 549.2 938.6 552.7 940.6 556.2 942.6 560.1 944.6 563.7 946.6 565.7 948.6 568.4 950.6 571.6 952.6 574.7 954.6 577.8 956.6 580.7 958.6 584.2 960.6 587.7 962.6 591.3 964.6 594.6 966.6 597.2 968.6 599.1 970.6 600.7 972.6 602.7 974.6 604.8 976.6 606.4 978.6 608.1 980.6 609.9 982.6 612.8 984.6 615.3 986.6 617.5 988.6 620.9 990.6 624.1 992.6 626.3 994.6 628.5 996.6 630.6 998.6 632.4 1000.6 633.9 1002.6 635.4 1004.6 637.3 1006.6 639.3 1008.6 641.2 1010.6 643.4 1012.6 645.8 1014.6 647.4 1016.6 648.9 1018.6 651 1020.6 653.1 1022.6 654.7 1024.6 657.2 1026.6 659.6 1028.6 661.3 1030.6 662.4 1032.6 663.7 1034.6 665.4 1036.6 667.1 1038.6 668.6 1040.6 669.6 1042.6 670.4 1044.6 671.5 1046.6 673.3 1048.6 675.2 1050.6 677.1 1052.6 678.7 1054.6 680.6 1056.6 682 1058.6 682.8 1060.6 684 1062.6 685.8 1064.6 687.5 1066.6 689.3 1068.6 691.3 1070.6 693.2 1072.6 694.7 1074.6 695.9 1076.6 697 1078.6 698.5 1080.6 699.7 1082.6 701.2 1084.6 702.6 1086.6 703.9 1088.6 704.6 1090.6 706.5 1092.6 708.1 1094.6 709 1096.6 710.1 1098.6 711.4 1100.6 712.9 1102.6 714 1104.6 714.6 1106.6 715.4 1108.6 715.8 1110.6 716.6 1112.6 717.2 1114.6 717.6 1116.6 718.5 1118.6 719.2 1120.6 719.9 1122.6 719.9 1124.6 719.8 1126.6 720.3 1128.6 721.1 1130.6 721.6 1132.6 721.7 1134.6 721.6 1136.6 721.9 1138.6 721.8 1140.6 721.9 1142.6 722.3 1144.6 721.9 1146.6 721.6 1148.6 722.3 1150.6 722.6 1152.6 722.8 1154.6 723.2 1156.6 723.1 1158.6 723.3 1160.6 723.8 1162.6 724.1 1164.6 723.1 1166.6 723.2 1168.6 723.6 1170.6 723.6 1172.6 723.1 1174.6 723 1176.6 723.3 1178.6 722.9 1180.6 722.7 1182.6 722.6 1184.6 722.3 1186.6 721.6 1188.6 721.5 1190.6 721.7 1192.6 721.8 1194.6 721.9 1196.6 721.7 1198.6 721.4 1200.6 721.2 1202.6 721.1 1204.6 720.5 1206.6 720.1 1208.6 719.6 1210.6 719.8 1212.6 720.5 1214.6 720.2 1216.6 719.7 1218.6 720.2 1220.6 720.5 1222.6 720.6 1224.6 721.2 1226.6 721.6 1228.6 722.1 1230.6 722.6 1232.6 723 1234.6 724.1 1236.6 724.9 1238.6 726.2 1240.6 728.1 1242.6 729.1 1244.6 730 1246.6 731.1 1248.6 732.1 1250.6 732.9 1252.6 734.5 1254.6 735.4 1256.6 736 1258.6 737.3 1260.6 739 1262.6 740.2 1264.6 741.9 1266.6 742.4 1268.6 743 1270.6 743.7 1272.6 745.4 1274.6 747.1 1276.6 748.6 1278.6 749.9 1280.6 751.4 1282.6 753.5 1284.6 754.4 1286.6 754.8 1288.6 755.4 1290.6 755.6 1292.6 757.3 1294.6 759.1 1296.6 759.5 1298.6 759.9 1300.6 760.4 1302.6 761.6 1304.6 762.1 1306.6 762.6 1308.6 763.5 1310.6 764.1 1312.6 763.6 1314.6 762.9 1316.6 763.6 1318.6 763.7 1320.6 763 1322.6 762.7 1324.6 763.2 1326.6 763.4 1328.6 763.3 1330.6 763.1 1332.6 763.2 1334.6 763.1 1336.6 762.7 1338.6 762.2 1340.6 761 1342.6 760.1 1344.6 760.4 1346.6 761.2 1348.6 761.1 1350.6 759.3 1352.6 758.8 1354.6 759.1 1356.6 759.4 1358.6 759.3 1360.6 759.7 1362.6 760.1 1364.6 759.9 1366.6 760.6 1368.6 761.9 1370.6 762 1372.6 761.9 1374.6 763.3 1376.6 763.6 1378.6 764.5 1380.6 765.7 1382.6 767.2 1384.6 769.2 1386.6 771.5 1388.6 772.8 1390.6 774.2 1392.6 776.2 1394.6 777.8 1396.6 779 1398.6 781.3 1400.6 783.1 1402.6 785.4 1404.6 787.5 1406.6 788.8 1408.6 790.2 1410.6 791.5 1412.6 792.8 1414.6 794.5 1416.6 797.1 1418.6 799 1420.6 800.7 1422.6 804.1 1424.6 807.2 1426.6 809.1 1428.6 810.8 1430.6 811.9 1432.6 813.2 1434.6 815.4 1436.6 817 1438.6 818.7 1440.6 821.1 1442.6 822.6 1444.6 823.7 1446.6 825.4 1448.6 827 1450.6 829 1452.6 830.3 1454.6 830 1456.6 830.6 1458.6 833 1460.6 834.2 1462.6 833.1 1464.6 832.5 1466.6 833.1 1468.6 834.3 1470.6 835.2 1472.6 835.9 1474.6 836.5 1476.6 836.3 1478.6 836.3 1480.6 837.2 1482.6 839.2 1484.6 840.3 1486.6 840.4 1488.6 840.2 1490.6 841.2 1492.6 841.8 1494.6 842.4 1496.6 842.7 1498.6 842.7 1500.6 842.8 1502.6 842.9 1504.6 844.1 1506.6 845.2 1508.6 846.1 1510.6 848.1 1512.6 849.8 1514.6 849.9 1516.6 850.2 1518.6 851.6 1520.6 854 1522.6 856.2 1524.6 856.7 1526.6 857 1528.6 857.8 1530.6 859.8 1532.6 861.5 1534.6 862.3 1536.6 863.4 1538.6 864.9 1540.6 867.3 1542.6 869.3 1544.6 870.2 1546.6 871.2 1548.6 872 1550.6 872.7 1552.6 873.8 1554.6 875.5 1556.6 877.4 1558.6 879.2 1560.6 881.3 1562.6 883.1 1564.6 884.8 1566.6 885.6 1568.6 886.2 1570.6 887.1 1572.6 888.6 1574.6 891.4 1576.6 892.6 1578.6 894.4 1580.6 896.9 1582.6 897.3 1584.6 898.6 1586.6 900.8 1588.6 902.7 1590.6 905.1 1592.6 907.8 1594.6 910.3 1596.6 912.5 1598.6 915 1600.6 917.2 1602.6 920.1 1604.6 922 1606.6 922.4 1608.6 924.4 1610.6 925.8 1612.6 925.1 1614.6 925.8 1616.6 929 1618.6 931 1620.6 932.7 1622.6 933.5 1624.6 934.2 1626.6 935.1 1628.6 936.2 1630.6 936.9 1632.6 938.7 1634.6 940.9 1636.6 942.2 1638.6 943.7 1640.6 944.8 1642.6 945.5 1644.6 947 1646.6 949.3 1648.6 950.5 1650.6 951.8 1652.6 953 1654.6 955.7 1656.6 957.9 1658.6 958.5 1660.6 959.5 1662.6 962.3 1664.6 964.6 1666.6 965.8 1668.6 967.6 1670.6 970.1 1672.6 971.1 1674.6 972.4 1676.6 974.5 1678.6 975.3 1680.6 976.4 1682.6 978.6 1684.6 980.1 1686.6 981.7 1688.6 982.7 1690.6 985 1692.6 987.6 1694.6 988.9 1696.6 990.3 1698.6 992.1 1700.6 993.8 1702.6 995.2 1704.6 996.8 1706.6 999 1708.6 1001.7 1710.6 1002.5 1712.6 1004.4 1714.6 1006.1 1716.6 1009.3 1718.6 1012 1720.6 1013.3 1722.6 1016.2 1724.6 1016.9 1726.6 1018.7 1728.6 1021.7 1730.6 1024.2 1732.6 1028 1734.6 1029.4 1736.6 1028.9 1738.6 1031.6 1740.6 1035.7 1742.6 1038.8 1744.6 1040 1746.6 1042.1 1748.6 1044.6 1750.6 1045.7 1752.6 1047.2 1754.6 1048.7 1756.6 1052.2 1758.6 1053.9 1760.6 1052.2 1762.6 1051.4 1764.6 1054.4 1766.6 1058.6 1768.6 1060.6 1770.6 1062.1 1772.6 1061.9 1774.6 1063.3 1776.6 1066.5 1778.6 1069.3 1780.6 1069.7 1782.6 1070.4 1784.6 1073.1 1786.6 1075.5 1788.6 1077.3 1790.6 1078.2 1792.6 1079.2 1794.6 1080.2 1796.6 1080.8 1798.6 1085.1 1800.6 1089.1 1802.6 1089.7 1804.6 1089 1806.6 1090.6 1808.6 1094.4 1810.6 1095.5 1812.6 1096.9 1814.6 1098.8 1816.6 1100.3 1818.6 1103.2 1820.6 1106.4 1822.6 1108.2 1824.6 1111.6 1826.6 1113.3 1828.6 1115.2 1830.6 1118.4 1832.6 1121.3 1834.6 1123.6 1836.6 1124.8 1838.6 1126.6 1840.6 1129.9 1842.6 1130.5 1844.6 1131.7 1846.6 1135.3 1848.6 1137.6 1850.6 1138.7 1852.6 1140.7 1854.6 1144.2 1856.6 1147.1 1858.6 1146.5 1860.6 1146.1 1862.6 1148.9 1863.2 1151.3"/>
</g>
<text transform="translate(242 100.8) scale(1.000 1.020)" font-size="50" text-anchor="end">0</text>
<text transform="translate(242 380) scale(1.000 1.020)" font-size="50" text-anchor="end">-5</text>
<text transform="translate(242 661.1) scale(1.000 1.020)" font-size="50" text-anchor="end">-10</text>
<text transform="translate(242 940.3) scale(1.000 1.020)" font-size="50" text-anchor="end">-15</text>
<text transform="translate(242 1221.7) scale(1.000 1.020)" font-size="50" text-anchor="end">-20</text>
<text transform="translate(280.6 1282.6) scale(1.000 1.020)" font-size="50" text-anchor="middle">1520</text>
<text transform="translate(544.5 1282.6) scale(1.000 1.020)" font-size="50" text-anchor="middle">1540</text>
<text transform="translate(808.9 1282.6) scale(1.000 1.020)" font-size="50" text-anchor="middle">1560</text>
<text transform="translate(1072.7 1282.6) scale(1.000 1.020)" font-size="50" text-anchor="middle">1580</text>
<text transform="translate(1335 1282.6) scale(1.000 1.020)" font-size="50" text-anchor="middle">1600</text>
<text transform="translate(1599.2 1282.6) scale(1.000 1.020)" font-size="50" text-anchor="middle">1620</text>
<text transform="translate(1863.2 1282.6) scale(1.000 1.020)" font-size="50" text-anchor="middle">1640</text>
<text transform="translate(1072.7 1383.5)" font-size="67.2" text-anchor="middle">Wavelength, nm</text>
<text transform="translate(73.8 624.3) rotate(-90)" font-size="67" text-anchor="middle">Normalized intensity, dB</text>
<rect x="1358.1" y="43.1" width="477.4" height="309.7" fill="#fff" stroke="#000" stroke-width="2"/>
<line x1="1419.3" y1="95" x2="1553.4" y2="95" stroke="#9000ff" stroke-width="6" stroke-linecap="round"/>
<text transform="translate(1569.6 115.8) scale(1.000 1.040)" font-size="60.7" text-anchor="start">LD663-2</text>
<line x1="1419.3" y1="170" x2="1553.4" y2="170" stroke="#008000" stroke-width="6" stroke-linecap="round"/>
<text transform="translate(1569.6 190.3) scale(1.000 1.040)" font-size="60.7" text-anchor="start">LD663-1</text>
<line x1="1419.3" y1="244.2" x2="1553.4" y2="244.2" stroke="#ff8000" stroke-width="6" stroke-linecap="round"/>
<text transform="translate(1569.6 264.9) scale(1.000 1.040)" font-size="60.7" text-anchor="start">LD664</text>
<line x1="1419.3" y1="318.2" x2="1553.4" y2="318.2" stroke="#ff00ff" stroke-width="6" stroke-linecap="round"/>
<text transform="translate(1569.6 339.3) scale(1.000 1.040)" font-size="60.7" text-anchor="start">LD666</text>
</svg></body></html>
